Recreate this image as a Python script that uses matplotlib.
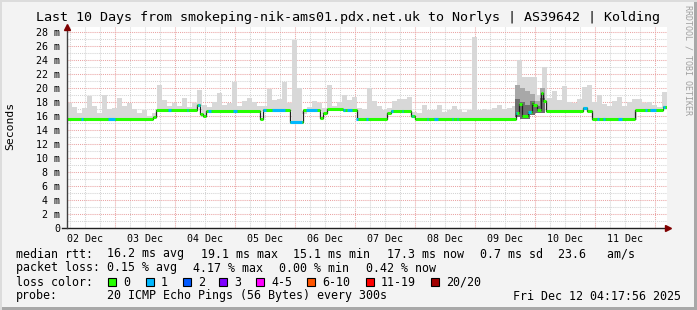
import numpy as np
import matplotlib
matplotlib.use("Agg")
import matplotlib.pyplot as plt
from matplotlib.patches import Rectangle

# ---------------- data (time in hours since 02 Dec 00:00, values in ms) -------------
day_labels = ["02 Dec", "03 Dec", "04 Dec", "05 Dec", "06 Dec",
              "07 Dec", "08 Dec", "09 Dec", "10 Dec", "11 Dec"]
y_tick_values = list(range(0, 29, 2))
y_tick_labels = ["0"] + [f"{v} m" for v in range(2, 29, 2)]

# median rtt as step change points
median_t = [4.8, 39.2, 40.4, 56.8, 58.0, 59.2, 60.4, 82.0, 83.2, 94.0, 99.2,
            106.0, 107.2, 108.8, 115.2, 120.8, 132.8, 134.4, 142.4, 144.0,
            184.4, 185.6, 186.8, 189.2, 190.8, 191.2, 192.8, 194.4, 195.2,
            196.4, 211.2, 212.8, 214.8, 232.0, 243.2]
median_ms = [15.6, 15.9, 16.85, 17.6, 16.3, 16.0, 16.75, 15.6, 16.8, 15.2, 16.85,
             15.7, 16.4, 17.0, 16.85, 15.6, 16.4, 16.75, 16.0, 15.6,
             16.4, 17.7, 16.0, 16.6, 17.9, 17.6, 16.85, 19.3, 18.1,
             16.75, 17.1, 16.75, 15.6, 16.85, 17.3]
end_t = 244.8

# intervals with 1 lost packet (blue median)
loss1_start = [10.4, 21.2, 45.2, 52.8, 57.2, 61.2, 71.2, 83.2, 86.8, 94.0, 100.4,
               115.2, 116.8, 120.4, 124.4, 134.4, 138.8, 142.8, 148.8, 151.6,
               158.8, 160.8, 184.4, 189.2, 211.2, 216.8, 219.2, 225.2, 236.0,
               238.0, 243.2]
loss1_end = [11.2, 24.0, 46.4, 53.2, 58.0, 62.4, 72.8, 84.4, 92.0, 98.8, 104.8,
             116.0, 118.8, 121.2, 125.2, 135.2, 139.2, 143.2, 149.2, 153.2,
             159.2, 161.2, 184.8, 190.4, 212.8, 217.6, 220.0, 226.8, 236.8,
             240.4, 244.0]

# upper smoke (max rtt) per 2-hour bin, starting at 4.8 h
smoke_top = [17.9, 17.3, 16.4, 17.1, 18.8, 17.5, 16.5, 19.0, 17.0, 17.2,
             18.6, 17.5, 17.9, 17.0, 16.4, 16.8, 16.0, 16.4, 20.4, 18.3,
             17.5, 17.8, 17.4, 18.6, 17.3, 17.8, 19.7, 17.6, 17.3, 18.0,
             19.3, 17.6, 17.8, 20.9, 17.5, 18.2, 18.6, 18.0, 17.4, 17.5,
             19.8, 18.3, 18.5, 20.9, 17.8, 26.9, 20.0, 16.3, 17.3, 18.2,
             17.8, 17.2, 20.4, 17.5, 18.0, 19.0, 18.3, 18.7, 17.2, 17.0,
             20.0, 18.2, 17.5, 16.8, 17.2, 18.2, 18.5, 18.5, 18.7, 16.6,
             16.4, 17.6, 16.8, 16.8, 17.6, 16.6, 16.8, 17.4, 16.8, 16.6,
             16.8, 27.3, 16.8, 17.0, 16.9, 17.2, 17.6, 17.0, 17.1, 17.5,
             24.0, 21.6, 21.6, 21.6, 19.0, 23.0, 18.6, 19.6, 18.3, 20.3,
             18.0, 17.8, 18.5, 20.1, 20.4, 18.0, 19.0, 17.7, 17.4, 18.2,
             18.7, 17.4, 18.0, 18.5, 18.4, 17.8, 18.0, 17.6, 17.3, 19.4]
smoke_start = 4.8
smoke_bin = 2.0

# denser smoke in the unstable period (mid and dark grey bands)
dense_t = [184.0, 186.0, 188.0, 190.0, 192.0, 194.0]
mid_top = [20.5, 20.0, 19.6, 19.2, 18.2, 20.0]
dark_top = [18.4, 18.0, 17.6, 18.2, 17.4, 18.6]
dense_low = [15.8, 15.6, 15.6, 16.2, 16.4, 16.4]

legend_colors = ["#26ff00", "#00b8ff", "#0059ff", "#7e00ff", "#ff00ff",
                 "#ff5500", "#ff0000", "#a10000"]
legend_labels = ["0", "1", "2", "3", "4-5", "6-10", "11-19", "20/20"]

# ---------------- figure ----------------
W, H = 697, 310
fig = plt.figure(figsize=(W / 100, H / 100), dpi=100)
fig.patch.set_facecolor("#f3f3f3")

def fx(x):
    return x / W

def fy(y):
    return 1 - y / H

# frame (3D-ish border)
for rect, col in [((0, 0, 1, fy(H - 3)), "#a8a8a8"),
                  ((fx(W - 3), 0, fx(3), 1), "#a8a8a8"),
                  ((0, fy(2), 1, 1 - fy(2)), "#dcdcdc"),
                  ((0, 0, fx(2), 1), "#dcdcdc")]:
    fig.patches.append(Rectangle(rect[:2], rect[2], rect[3], transform=fig.transFigure,
                                 facecolor=col, edgecolor="none", zorder=-5))

ymax = 28.7
x0, x1 = 67, 667
ybot, ytop = 228, 228 - ymax * 7
ax = fig.add_axes([fx(x0), fy(ybot), fx(x1) - fx(x0), fy(ytop) - fy(ybot)])
ax.set_facecolor("white")
ax.set_xlim(4.8, end_t)
ax.set_ylim(0, ymax)
for s in ax.spines.values():
    s.set_visible(False)

mono = "DejaVu Sans Mono"

# grid
red = "#eaa4a4"
grey = "#d4d4d4"
for h in np.arange(6, end_t, 6):
    is_major = (h % 24) == 0
    ax.axvline(h, color=red if is_major else grey, lw=0.75,
               ls=(0, (1, 1)), zorder=0)
for v in range(1, 29):
    ax.axhline(v, color=red if v % 2 == 0 else grey, lw=0.75,
               ls=(0, (1, 1)), zorder=0)

# smoke
n = len(smoke_top)
bin_left = smoke_start + smoke_bin * np.arange(n)
mt = np.array(median_t)
mm = np.array(median_ms)

def med_at(t):
    idx = np.searchsorted(mt, t, side="right") - 1
    return mm[np.clip(idx, 0, len(mm) - 1)]

base = med_at(bin_left + smoke_bin / 2) - 0.15
ax.bar(bin_left, np.array(smoke_top) - base, bottom=base, width=smoke_bin,
       align="edge", color="#d8d8d8", lw=0, zorder=1)
ax.bar(dense_t, np.array(mid_top) - np.array(dense_low), bottom=dense_low,
       width=2.0, align="edge", color="#a8a8a8", lw=0, zorder=2)
ax.bar(dense_t, np.array(dark_top) - np.array(dense_low), bottom=dense_low,
       width=2.0, align="edge", color="#6e6e6e", lw=0, zorder=2)

# median line: black steps, coloured horizontal segments
ts = list(median_t) + [end_t]
ax.step(ts, list(median_ms) + [median_ms[-1]], where="post",
        color="#202020", lw=0.9, zorder=3)
for i in range(len(median_ms)):
    ax.hlines(median_ms[i], ts[i], ts[i + 1], color="#26ff00", lw=2.2, zorder=4)
for a, b in zip(loss1_start, loss1_end):
    ax.hlines(med_at((a + b) / 2), a, b, color="#00b8ff", lw=2.2, zorder=5)

# axes lines with arrows
ax.plot([4.8 - 5 * 0.4, end_t + 1 * 0.4], [0, 0], color="#202020", lw=1.0,
        clip_on=False, zorder=6)
ax.plot([4.8, 4.8], [0, 28.5], color="#404040", lw=1.0, clip_on=False, zorder=6)
ax.plot([end_t + 0.2], [0], marker=">", color="#7f0000", ms=4, clip_on=False, zorder=7)
ax.plot([4.8], [28.7], marker="^", color="#7f0000", ms=4, clip_on=False, zorder=7)

# ticks
ax.set_xticks([12 + 24 * i for i in range(len(day_labels))])
ax.set_xticklabels(day_labels, fontfamily=mono, fontsize=7.2)
ax.set_yticks(y_tick_values)
ax.set_yticklabels(y_tick_labels, fontfamily=mono, fontsize=7.2)
ax.tick_params(axis="x", length=0, pad=4)
ax.tick_params(axis="y", length=0, pad=5)

# texts
fig.text(fx(348.5), fy(18), "Last 10 Days from smokeping-nik-ams01.pdx.net.uk to Norlys | AS39642 | Kolding",
         ha="center", va="center", fontfamily=mono, fontsize=9.6)
fig.text(fx(10), fy(126), "Seconds", rotation=90, ha="center", va="center",
         fontfamily=mono, fontsize=8.2)
fig.text(fx(688), fy(60), "RRDTOOL / TOBI OETIKER", rotation=270, ha="center",
         va="center", fontfamily=mono, fontsize=6, color="#a0a0a0")

fs = 8.4
def t(x, y, s):
    fig.text(fx(x), fy(y), s, ha="left", va="center", fontfamily=mono, fontsize=fs)

t(16, 254, "median rtt:")
t(107.3, 254, "16.2 ms avg")
t(200.7, 254, "19.1 ms max")
t(293.3, 254, "15.1 ms min")
t(386.7, 254, "17.3 ms now")
t(480, 254, "0.7 ms sd")
t(558, 254, "23.6   am/s")
t(16, 268, "packet loss:")
t(107.3, 268, "0.15 % avg")
t(193.3, 268, "4.17 % max")
t(279.3, 268, "0.00 % min")
t(365.7, 268, "0.42 % now")
t(16, 282, "loss color:")
box_x = [108.3, 145.7, 182.7, 219.3, 256, 307.3, 365.7, 431]
for bx, c, lab in zip(box_x, legend_colors, legend_labels):
    fig.patches.append(Rectangle((fx(bx), fy(286)), fx(8), fy(278) - fy(286),
                                 transform=fig.transFigure, facecolor=c,
                                 edgecolor="black", lw=0.8))
    t(bx + 15, 282, lab)
t(16, 296, "probe:")
t(107.3, 296, "20 ICMP Echo Pings (56 Bytes) every 300s")
t(513, 296, "Fri Dec 12 04:17:56 2025")

fig.savefig("out.png", dpi=100, facecolor=fig.get_facecolor())
